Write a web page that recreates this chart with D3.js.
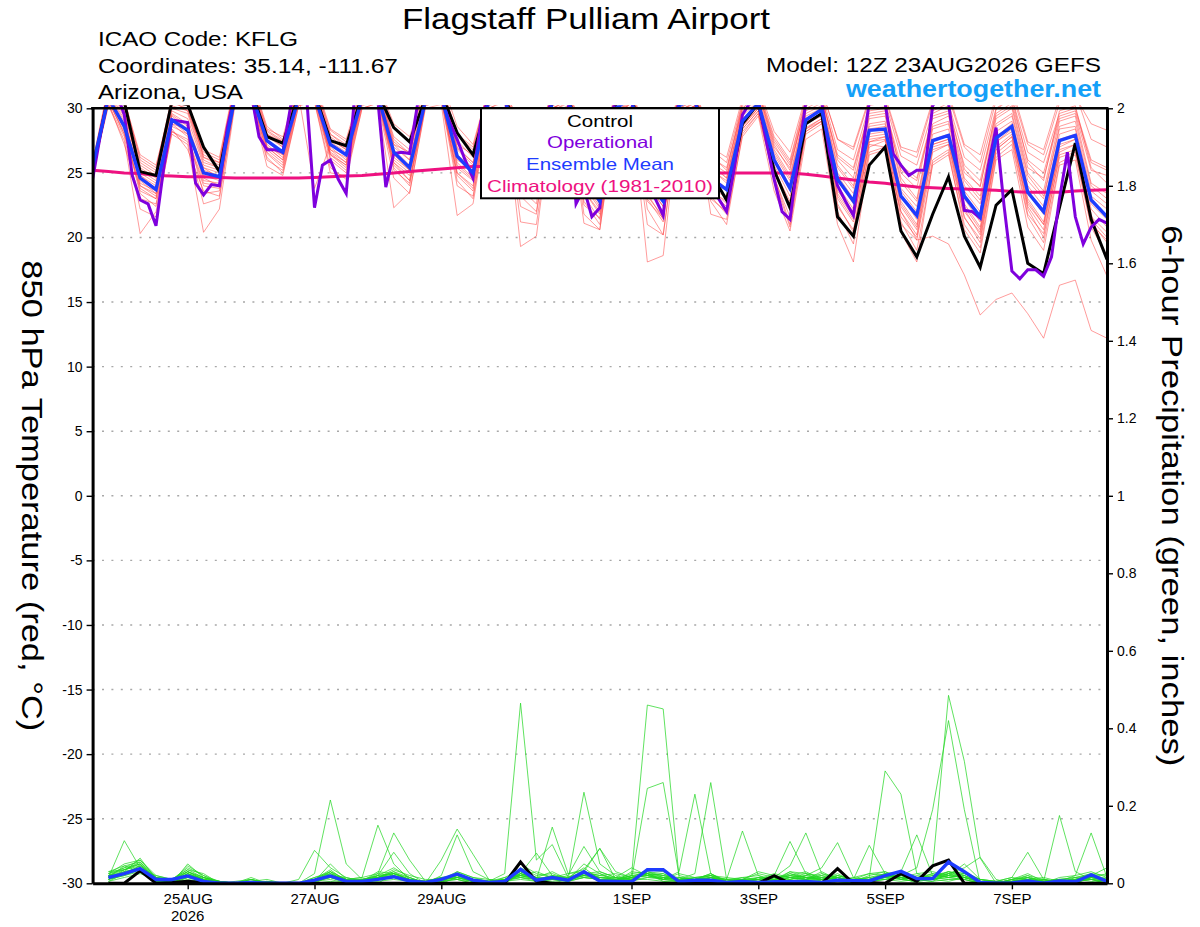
<!DOCTYPE html>
<html>
<head>
<meta charset="utf-8">
<title>Flagstaff Pulliam Airport - GEFS meteogram</title>
<script src="https://cdn.jsdelivr.net/npm/d3@7/dist/d3.min.js"></script>
<style>
  body { margin: 0; background: #fff; }
  svg { display: block; }
  text { font-family: "Liberation Sans", Arial, Helvetica, sans-serif; }
</style>
</head>
<body>
<svg id="chart" width="1200" height="927"></svg>
<script>
// ---------------- data ----------------
const runStart = Date.UTC(2026, 7, 23, 12); // 12Z 23AUG2026, 6-hourly to +384h
const HOUR = 3600e3;

const tempTicks = [-30, -25, -20, -15, -10, -5, 0, 5, 10, 15, 20, 25, 30];
const precipTicks = [0, 0.2, 0.4, 0.6, 0.8, 1, 1.2, 1.4, 1.6, 1.8, 2];
const dateTicks = [Date.UTC(2026,7,25), Date.UTC(2026,7,27), Date.UTC(2026,7,29),
                   Date.UTC(2026,8,1), Date.UTC(2026,8,3), Date.UTC(2026,8,5), Date.UTC(2026,8,7)];
const dateLabels = ['25AUG', '27AUG', '29AUG', '1SEP', '3SEP', '5SEP', '7SEP'];

// 850 hPa temperature, deg C, 6-hourly (65 values)
const controlTemp = [25.2, 31.0,30.5,25.1,24.8, 30.5,30.3,27.0,25.1, 31.2,31.4,27.8,27.3, 31.0,31.2,27.5,27.1,
  31.0,31.2,28.5,27.4, 30.8,31.2,28.1,26.4, 30.8,31.2,26.5,24.5, 30.6,31.1,25.5,23.8, 30.3,31.0,25.2,23.6,
  30.3,30.9,25.0,22.9, 28.8,30.4,25.2,22.3, 28.8,29.6,21.6,20.1, 25.6,27.0,20.5,18.5, 21.8,24.7,20.1,17.7,
  22.5,23.7,18.0,17.2, 22.3,27.3,21.4,18.3];
const meanTemp = [25.5, 30.8,28.6,24.6,23.7, 29.1,28.3,25.0,24.7, 31.0,31.2,27.5,26.6, 30.8,31.0,27.2,26.4,
  30.8,31.0,26.6,25.4, 30.6,31.0,26.3,25.0, 30.6,31.0,25.2,24.0, 30.5,31.0,24.6,22.8, 30.0,30.8,24.4,22.8,
  30.2,30.8,24.6,23.7, 29.0,30.4,26.0,23.8, 29.1,29.9,24.5,22.8, 28.3,28.4,23.2,21.7, 27.5,27.9,23.2,21.6,
  27.7,28.6,23.5,22.0, 27.5,27.9,22.9,21.6];
const climoTemp = [25.2,25.1,25.0,24.95,24.8,24.75,24.7,24.7,24.65,24.6, 24.6,24.6,24.6,24.6,24.65,24.7,24.75,24.8,24.9,25.0,
  25.1,25.2,25.3,25.4,25.5,25.5,25.55,25.5,25.5,25.45, 25.4,25.35,25.3,25.25,25.2,25.15,25.1,25.05,25.0,25.0,
  25.0,25.0,25.0,25.0,25.0,24.9,24.75,24.6,24.45,24.3, 24.2,24.05,23.9,23.85,23.8,23.75,23.7,23.65,23.55,23.5,
  23.5,23.5,23.6,23.65,23.7];
// operational run, 3-hourly (129 values)
const operTemp = [24.5,28.0,31.0,31.2,29.5,24.8,22.9,22.6,20.9,25.5, 29.1,29.0,28.9,24.2,23.3,24.1,24.0,28.5,31.2,31.5,
  31.2,27.8,26.8,26.8,26.6,30.2,31.2,31.0,22.3,25.6, 26.0,24.5,23.4,30.5,31.2,31.3,30.6,23.9,26.5,26.6,
  26.5,30.3,31.2,31.3,30.8,29.0,27.6,26.0,24.6,29.0, 31.0,31.3,31.0,27.0,25.0,24.3,23.5,28.5,31.0,31.2,
  30.5,22.6,23.8,21.6,22.3,28.0,30.8,31.2,30.7,26.5, 24.0,23.0,21.7,27.5,30.6,31.1,30.8,27.0,24.2,23.0,
  22.0,25.5,29.5,30.5,30.6,27.5,24.5,22.0,21.4,26.0, 30.5,31.0,30.5,26.5,24.0,22.8,21.7,26.0,30.5,31.0,
  30.4,26.5,25.6,24.8,25.2,25.2,30.2,31.0,30.4,26.0, 22.1,22.0,21.5,25.5,28.5,22.5,17.4,16.8,17.5,17.5,
  17.0,18.5,23.0,26.6,21.6,19.5,20.8,21.4,21.1];
// ensemble members, 6-hourly
const tempMembers = [
  [25.6, 31.5,30.2,25.8,25.0, 30.8,30.5,26.2,25.6, 32.0,32.2,28.3,27.5, 31.8,32.0,28.0,27.2, 31.6,31.8,27.6,26.5, 31.4,31.9,27.5,26.2, 31.5,32.0,26.5,25.4, 31.4,31.8,25.8,24.2, 31.0,31.6,25.6,24.3, 31.2,31.7,25.8,25.0, 30.2,31.3,27.2,25.2, 30.5,31.0,26.0,24.6, 30.0,30.1,25.0,23.8, 29.6,30.2,25.3,23.9, 29.9,30.8,25.8,24.4, 29.8,30.2,25.4,24.2],
  [25.0, 30.2,27.5,20.3,22.0, 28.0,27.2,20.4,22.2, 30.4,30.6,25.5,24.8, 30.2,30.5,25.4,24.5, 30.0,30.4,22.3,23.5, 30.0,30.3,21.7,22.6, 30.0,30.5,19.3,20.1, 29.8,30.4,22.5,21.5, 29.0,30.0,18.1,18.6, 29.5,30.2,22.8,21.0, 28.0,29.6,24.5,20.8, 28.2,29.0,22.0,19.5, 27.0,27.5,21.0,19.8, 26.0,26.8,21.5,19.9, 26.5,27.5,21.8,20.3, 26.2,26.6,21.0,19.8],
  [25.3, 31.0,29.0,24.0,23.2, 29.5,28.6,24.6,24.0, 31.2,31.4,27.0,26.0, 31.0,31.2,26.8,25.8, 30.8,31.0,26.0,25.0, 30.6,31.0,25.6,24.5, 30.4,30.9,24.8,23.4, 30.2,30.8,24.0,22.2, 29.8,30.4,23.8,22.0, 29.8,30.5,24.0,23.0, 28.6,30.0,25.2,22.8, 28.5,29.2,23.2,21.4, 27.2,27.0,22.0,19.8, 20.1,19.5,17.1,14.0, 15.2,15.7,14.1,12.2, 16.3,16.7,12.8,12.2],
  [25.8, 31.8,30.8,26.0,25.2, 30.6,29.8,26.6,26.0, 32.0,32.4,28.6,27.6, 31.6,31.9,28.3,27.4, 31.7,32.0,28.5,27.3, 31.8,32.2,28.6,27.2, 31.6,32.1,27.8,26.5, 31.5,31.9,27.0,25.8, 31.2,31.8,26.5,25.2, 31.4,31.9,26.8,25.8, 30.5,31.5,27.8,26.0, 30.8,31.4,27.6,26.8, 30.6,30.8,26.8,26.2, 30.4,30.9,27.0,25.8, 30.6,31.2,27.2,26.4, 30.4,30.9,28.8,28.3],
  [25.1, 30.6,28.0,23.8,23.0, 28.8,27.8,24.2,24.0, 30.8,31.0,26.8,25.8, 30.6,30.8,26.5,25.6, 30.5,30.8,25.8,24.4, 30.4,30.8,25.0,23.8, 30.4,30.8,23.8,22.6, 30.0,30.6,23.2,21.4, 29.4,30.4,22.8,21.5, 29.8,30.4,23.5,22.4, 28.4,29.8,25.0,22.6, 28.2,29.0,23.0,21.2, 27.4,27.6,22.0,20.2, 26.8,27.2,22.0,20.4, 27.0,28.0,22.4,20.6, 26.8,27.2,21.4,20.0],
  [25.4, 31.2,29.6,25.2,24.4, 29.8,29.2,25.6,25.2, 31.4,31.6,28.0,27.0, 31.2,31.4,27.6,26.8, 31.0,31.3,27.2,26.0, 31.0,31.4,26.8,25.6, 31.0,31.4,25.8,24.6, 30.8,31.2,25.2,23.6, 30.4,31.0,25.0,23.5, 30.6,31.2,25.2,24.4, 29.6,30.8,26.6,24.6, 29.8,30.4,25.4,23.8, 29.2,29.4,24.3,22.8, 28.6,29.0,24.4,22.9, 28.8,29.6,24.8,23.2, 28.6,29.0,24.0,23.0],
  [25.2, 30.4,27.2,23.0,22.6, 28.4,26.8,23.6,23.2, 30.6,30.8,26.0,25.2, 30.4,30.6,26.0,25.0, 30.2,30.6,25.2,24.2, 30.2,30.6,24.8,23.6, 30.2,30.7,23.2,22.0, 29.8,30.5,22.8,21.0, 29.2,30.2,22.2,20.2, 29.6,30.2,23.0,22.0, 28.2,29.6,24.6,21.6, 28.0,28.8,22.4,20.6, 26.6,27.0,21.2,19.0, 25.6,26.4,21.0,19.2, 26.2,27.2,21.6,19.6, 25.8,26.4,20.8,18.6],
  [25.7, 31.4,30.0,25.4,24.6, 30.0,29.6,25.8,25.4, 31.6,31.8,28.0,27.2, 31.4,31.6,27.8,26.9, 31.2,31.5,27.0,26.0, 31.2,31.6,26.9,25.8, 31.2,31.6,26.2,25.0, 31.0,31.4,25.6,24.0, 30.6,31.2,25.4,24.0, 30.8,31.3,25.6,24.6, 29.8,31.0,26.8,24.8, 30.0,30.6,25.6,24.0, 29.4,29.6,24.6,23.0, 28.8,29.4,24.6,23.2, 29.2,30.0,25.0,23.6, 29.0,29.4,24.2,23.4],
  [24.9, 30.3,27.8,22.2,21.6, 28.2,27.4,22.6,23.0, 30.6,30.8,26.2,25.0, 30.2,30.5,25.0,24.8, 30.0,30.4,24.6,23.4, 30.2,30.6,24.0,23.2, 30.0,30.6,21.2,21.0, 29.6,30.2,21.1,20.6, 29.0,30.0,21.0,20.2, 29.2,30.0,21.8,21.4, 27.8,29.4,23.6,20.5, 27.6,28.4,21.0,18.1, 26.4,26.8,20.4,18.1, 25.8,26.6,20.6,18.8, 26.0,26.8,20.8,19.0, 25.6,26.0,19.8,17.0],
  [25.5, 31.0,29.2,24.8,24.0, 29.6,28.8,25.2,24.8, 31.2,31.4,27.6,26.6, 31.0,23.8,27.2,26.4, 30.8,31.0,26.6,25.4, 30.6,31.0,26.4,25.0, 30.6,31.0,25.4,24.2, 30.4,31.0,24.8,23.0, 30.0,30.8,24.6,23.0, 30.2,30.8,24.8,23.8, 29.2,30.4,26.2,24.0, 29.4,30.0,24.8,23.0, 28.6,28.8,23.6,22.0, 28.0,28.4,23.6,22.0, 28.2,29.0,24.0,22.4, 28.0,28.4,23.2,22.2],
  [25.3, 30.9,28.8,24.4,23.4, 29.2,28.2,24.8,24.4, 31.0,31.2,27.2,26.2, 30.8,31.0,27.0,26.0, 30.6,30.9,26.2,25.2, 30.6,31.0,25.8,24.6, 30.4,30.8,24.6,23.4, 30.4,30.8,24.2,22.4, 29.8,30.6,24.0,22.4, 30.0,30.6,24.2,23.2, 28.8,30.2,25.6,23.2, 29.0,29.6,24.0,22.2, 28.0,28.2,22.8,21.0, 27.2,27.6,22.6,20.8, 27.4,28.4,23.0,21.2, 27.2,27.6,22.2,20.8],
  [25.6, 31.3,29.8,25.0,24.2, 30.2,29.8,26.0,25.4, 31.8,32.0,27.8,27.0, 31.4,31.6,27.6,26.8, 31.4,31.7,27.8,26.8, 31.4,31.8,27.0,25.8, 31.3,31.8,26.6,25.2, 31.2,31.6,26.0,24.6, 30.8,31.4,25.8,24.6, 31.0,31.5,26.2,25.4, 30.0,31.2,27.4,25.6, 30.2,30.8,26.4,25.4, 29.8,30.0,25.6,24.6, 29.4,29.8,25.6,24.4, 29.6,30.4,26.0,25.0, 29.4,29.8,25.8,25.2],
  [25.0, 30.5,28.2,23.4,22.4, 28.6,28.0,23.4,23.6, 30.8,31.0,26.5,25.4, 30.6,30.8,26.2,25.2, 30.4,30.7,25.4,24.0, 30.4,30.8,25.0,24.0, 30.3,30.8,22.4,21.8, 30.0,30.6,23.6,21.8, 29.6,30.4,23.4,21.4, 29.8,30.4,23.8,22.6, 28.6,30.0,25.2,22.2, 28.4,29.2,23.6,22.0, 27.6,27.8,22.4,20.6, 27.0,27.4,22.2,20.2, 26.8,27.8,22.6,21.0, 26.6,27.2,21.6,20.4],
  [25.4, 31.1,29.4,24.2,23.6, 29.4,28.4,25.4,25.0, 31.4,31.6,27.4,26.4, 31.2,31.4,26.8,26.2, 31.0,31.2,26.8,25.6, 30.8,31.2,26.0,25.2, 30.8,31.2,25.6,24.4, 30.6,31.0,25.0,23.2, 30.2,30.9,25.2,23.8, 30.4,31.0,25.4,24.2, 29.4,30.6,26.4,24.4, 29.6,30.2,25.0,23.4, 28.8,29.0,23.8,22.4, 28.4,28.8,24.0,22.6, 28.6,29.4,24.4,23.0, 28.4,28.6,23.6,22.6],
  [25.5, 31.2,29.8,25.6,24.8, 30.4,30.0,26.4,25.8, 31.8,32.0,28.2,27.4, 31.6,31.8,28.0,27.0, 31.4,31.6,27.4,26.4, 31.5,31.8,28.0,27.0, 31.4,31.8,27.0,26.0, 31.3,31.7,26.6,25.4, 31.0,31.6,26.2,25.0, 31.2,31.6,26.4,25.2, 30.4,31.4,27.6,25.8, 30.6,31.2,26.8,26.0, 30.2,30.5,26.3,25.6, 29.8,30.4,26.2,25.2, 30.0,30.8,26.6,25.8, 29.6,30.0,26.0,25.4],
  [25.2, 30.7,28.4,23.6,23.0, 28.2,27.6,24.0,23.8, 30.8,31.0,26.6,25.6, 30.6,30.8,26.4,25.4, 30.4,30.8,25.6,24.4, 30.4,30.8,24.4,23.0, 30.3,30.8,24.4,23.0, 30.0,30.6,21.8,20.6, 29.6,30.4,23.2,21.6, 29.6,30.2,23.2,21.8, 28.4,29.8,24.8,21.0, 28.4,29.0,22.6,20.4, 27.4,27.8,21.6,20.0, 26.6,27.2,21.6,19.6, 26.8,27.8,22.2,20.0, 26.4,26.8,21.2,19.6],
  [25.6, 31.4,30.4,26.2,25.4, 30.8,30.6,26.8,26.2, 32.2,32.4,28.4,27.8, 32.0,32.2,28.4,27.6, 31.8,32.0,28.8,27.8, 31.6,32.0,28.0,26.8, 31.8,32.2,27.6,26.8, 31.6,32.0,27.2,26.2, 31.4,31.9,27.0,26.0, 31.5,32.0,27.0,26.2, 30.8,31.7,28.2,26.6, 31.0,31.5,27.6,27.0, 30.8,31.0,27.0,26.6, 30.6,31.2,27.2,26.4, 31.0,31.6,27.4,26.8, 30.8,31.2,27.6,27.0],
  [25.3, 30.8,28.6,24.8,23.8, 29.0,28.0,25.4,24.6, 31.2,31.4,27.0,26.4, 31.0,31.2,26.4,25.6, 30.8,31.0,26.4,25.2, 30.8,31.2,26.4,25.4, 30.7,31.2,25.0,23.6, 30.6,31.0,24.4,22.6, 30.0,30.8,24.2,22.4, 30.2,30.8,24.6,23.6, 29.0,30.4,26.0,23.6, 29.2,29.8,24.4,22.6, 28.4,28.6,23.2,21.4, 27.6,28.0,23.0,21.2, 27.8,28.8,23.4,21.8, 27.6,28.0,22.6,21.4],
  [25.1, 30.6,28.0,24.0,23.4, 28.8,28.4,24.4,24.2, 30.9,31.1,27.0,26.0, 30.7,31.0,26.6,25.8, 30.6,30.8,25.8,24.8, 30.5,30.9,25.4,24.4, 30.5,30.9,24.2,23.0, 30.2,30.7,23.6,22.0, 29.8,30.5,23.0,21.2, 30.0,30.6,23.6,22.8, 28.8,30.0,25.4,22.4, 28.8,29.4,23.4,21.6, 27.8,28.0,22.6,20.8, 27.2,27.6,22.4,20.6, 27.4,28.2,22.8,21.0, 27.0,27.6,21.8,18.2],
  [25.8, 31.6,30.6,26.4,25.6, 30.4,30.2,26.2,25.8, 31.8,32.0,28.0,27.4, 31.6,31.8,27.4,26.6, 31.6,31.8,27.2,26.6, 31.4,31.8,27.2,26.4, 31.4,31.9,26.6,25.6, 31.2,31.6,25.8,24.8, 30.8,31.4,25.4,24.4, 31.0,31.4,25.8,24.6, 30.0,31.2,27.0,25.4, 30.2,30.8,26.2,25.2, 29.6,29.8,25.2,24.4, 29.2,29.6,25.0,24.0, 29.4,30.2,25.4,24.6, 29.2,29.6,25.2,24.8]
];

// 6-hour precipitation, inches, valid 18Z 23AUG onward (64 values)
const controlPrecip = [0,0,.032,0,.002,.005,.002,0, 0,0,0,0,0,0,0,0, 0,0,0,0,0,0,0,0, 0,0,.055,.005,0,0,0,0,
  0,0,0,0,0,0,0,0, 0,0,.02,0,0,0,.038,0, .002,0,.025,.005,.045,.06,0,0, 0,0,0,0,0,0,0,0];
const meanPrecip = [.015,.025,.038,.01,.01,.019,.005,0, 0,.002,0,0,0,.008,.019,.005, .005,.01,.017,.006,.002,.01,.024,.008,
  .002,.005,.036,.008,.015,.008,.03,.006, .005,.004,.035,.035,.004,.008,.008,.002, .005,.002,.004,.004,.005,.002,.008,.007,
  .006,.02,.031,.012,.012,.055,.03,.002, 0,.001,.006,0,.006,.004,.022,.005];
const precipMembers = [
  [.015,.11,.04,.01,.005,.025,.01,0, 0,0,0,0,0,0,.005,0, 0,.01,.015,.005,0,.01,.025,.01, .005,.025,.465,.06,.1,.015,.04,.01, 0,.005,.03,.025,.005,0,.015,0, .01,0,.005,.015,.025,.005,.015,0, .005,.015,.025,.01,.04,.485,.315,.065, 0,0,.005,0,.01,0,.02,.005],
  [.025,.05,.06,.015,.01,.04,.02,0, 0,.01,0,0,0,.025,.215,.05, .01,0,.025,.01,.005,0,.015,.005, 0,.01,.025,.015,0,.01,.05,.025, .01,.02,.46,.45,.015,.005,0,0, 0,.005,0,.01,.02,.01,0,.005, .01,.025,.015,0,.005,.025,.01,0, 0,0,0,.01,0,.005,.01,0],
  [.01,.03,.065,.01,0,.05,.015,.005, 0,0,0,0,0,.005,.03,.01, .015,.15,.05,.01,0,.005,.01,0, 0,.005,.04,.02,.025,.01,.235,.05, .02,.01,.025,.005,0,.01,.025,.005, 0,.015,.01,.025,.01,0,.02,.01, .015,.29,.23,.025,.01,.005,.015,0, 0,.005,.01,0,0,.01,.005,0],
  [.02,.04,.05,.005,.01,.035,.025,0, 0,.005,.01,0,0,0,.02,.015, .005,.025,.13,.06,.005,0,.03,.015, .005,0,.05,.025,.015,.005,.025,.01, .005,.015,.02,.01,.03,.23,.025,0, .005,0,.01,.015,.01,.02,.005,0, .005,.01,.02,.04,.19,.42,.19,0, 0,0,.005,.01,0,.005,0,.01],
  [.005,.025,.045,.01,0,.02,.01,0, 0,.015,0,0,0,.01,.03,0, .01,.02,.08,.025,0,.06,.14,.075, .01,.005,.03,.01,.02,.015,.03,.09, .01,.025,.03,.015,.01,.025,.26,.01, .015,.01,.005,.03,.015,.01,.025,.005, .01,.02,.015,.025,.03,.02,.05,.01, .005,0,.015,.005,.01,0,.015,.005],
  [.03,.035,.055,.015,.005,.045,.02,.005, 0,0,.005,0,0,.005,.05,.01, .005,.015,.025,.01,.005,.015,.02,.01, 0,.015,.035,.01,.145,.025,.03,.02, .015,.01,.245,.26,.02,.01,.005,0, .01,0,.015,.005,.01,.03,.01,.005, .01,.015,.02,.01,.015,.025,.03,.01, 0,.01,0,.005,.175,.03,.01,0],
  [.01,.02,.035,.02,.01,.03,.015,0, .005,.01,0,0,0,.015,.025,.005, 0,.02,.04,.015,0,.02,.125,.03, .01,0,.025,.015,.03,.01,.02,.025, .005,.03,.025,.02,.01,0,.015,.01, .135,.02,.005,.025,.015,.01,.02,.01, .025,.03,.01,.015,.02,.03,.015,.005, 0,.005,.02,0,.015,.02,.13,.015],
  [.015,.045,.03,.01,.005,.025,.005,0, 0,0,0,0,.01,.085,.04,.015, .005,.03,.025,.015,0,.01,.015,.005, 0,.01,.02,.03,.015,.005,.025,.03, .015,.04,.02,.01,.025,.015,.01,.005, .01,.025,.015,.045,.13,.025,.01,.015, .01,.02,.03,.015,.01,.025,.04,.067, .01,0,.005,.01,0,.015,.025,.01],
  [.02,.03,.04,.005,0,.015,.01,0, 0,.01,0,0,0,.01,.02,.01, .015,.025,.02,.01,.005,.015,.01,.005, .005,.01,.025,.078,.02,.01,.015,.01, .005,.02,.025,.015,.005,.01,.02,.015, .01,.03,.02,.108,.025,.015,.02,.01, .015,.025,.01,.02,.015,.03,.025,.01, .005,.015,.08,.01,.005,.02,.03,.015],
  [.025,.035,.05,.01,.005,.02,.015,.005, 0,0,.005,0,0,.005,.015,0, .01,.015,.03,.005,0,.005,.02,.01, .005,.015,.02,.01,.015,.025,.035,.09, .03,.015,.02,.025,.01,.005,.015,.01, .005,.01,.025,.015,.02,.04,.105,.015, .025,.02,.015,.01,.025,.015,.02,.005, 0,.01,.025,.005,.01,.015,.02,.04],
  [.015,.025,.045,.015,.005,.03,.01,0, 0,.005,0,0,0,.01,.02,.005, .01,.015,.035,.02,.01,.01,.03,.015, .01,.005,.03,.015,.01,.02,.095,.03, .015,.01,.03,.02,.015,.01,.025,.005, .015,.02,.01,.03,.025,.02,.015,.01, .098,.025,.03,.125,.02,.015,.025,.005, .005,0,.01,.015,.005,.01,.025,.02],
  [.01,.02,.03,.005,0,.015,.005,0, 0,.005,0,0,0,.005,.015,.005, .005,.01,.015,.005,0,.01,.015,.005, 0,.005,.015,.01,.005,.01,.02,.015, .01,.005,.015,.01,.005,.01,.015,.005, .005,.01,.005,.015,.01,.005,.01,.005, .01,.015,.01,.005,.01,.02,.015,.005, 0,.005,.01,.005,0,.005,.01,.005],
  [.025,.04,.06,.02,.01,.035,.015,.005, 0,0,0,0,0,.01,.035,.005, 0,.015,.02,.01,0,.005,.025,.01, .005,0,.025,.01,.015,.005,.025,.02, .025,.015,.035,.03,.01,.015,.02,0, .005,.015,.01,.02,.03,.01,.015,.005, .02,.03,.015,.01,.015,.03,.02,0, 0,.01,.015,0,.005,.01,.015,.025],
  [.005,.015,.025,.01,0,.01,.005,0, 0,.01,0,0,0,.005,.01,0, .005,.005,.01,.005,0,.005,.01,0, 0,.005,.01,.005,.01,.005,.015,.01, .005,.01,.01,.005,.005,.005,.01,.005, 0,.005,.01,.005,.015,.005,.005,0, .005,.01,.005,.01,.005,.01,.01,0, 0,0,.005,0,.005,.005,.01,.005],
  [.02,.025,.035,.01,.005,.025,.01,0, 0,0,0,0,0,.005,.025,.01, .01,.02,.025,.01,.005,.01,.02,.01, .005,.01,.02,.015,.01,.015,.025,.01, .01,.015,.02,.015,.01,.015,.02,.01, .01,.015,.01,.02,.015,.015,.01,.005, .015,.02,.015,.01,.02,.025,.015,.005, 0,.005,.01,.005,.01,.005,.015,.01],
  [.01,.035,.045,.015,.01,.02,.01,.005, 0,.005,0,0,0,.015,.03,.01, .005,.01,.015,.01,.005,.015,.02,.005, 0,.01,.015,.01,.02,.01,.03,.015, .015,.01,.025,.01,.015,.01,.015,.005, .01,.005,.015,.01,.02,.015,.01,.01, .01,.015,.02,.015,.01,.02,.025,.01, .005,.015,.01,.005,.01,.015,.01,.015],
  [.03,.045,.055,.01,.005,.03,.015,0, 0,.005,0,0,0,.01,.02,.005, .005,.015,.03,.015,0,.01,.025,.01, .005,.005,.02,.015,.01,.01,.02,.015, .01,.02,.025,.02,.01,.005,.015,.01, .005,.01,.02,.015,.01,.025,.015,.005, .01,.025,.01,.015,.025,.015,.02,.005, 0,.01,.02,.01,.005,.01,.02,.01],
  [.015,.03,.04,.01,.005,.015,.01,0, 0,0,.005,0,0,.005,.015,.005, .01,.01,.02,.005,0,.005,.015,.005, 0,.01,.015,.005,.01,.005,.015,.01, .005,.015,.02,.01,.005,.01,.01,.005, .01,.005,.01,.015,.01,.01,.015,.005, .005,.01,.015,.01,.015,.01,.015,.005, 0,.005,.015,.005,0,.01,.015,.005],
  [.01,.025,.035,.005,0,.025,.01,0, 0,0,0,0,0,.01,.02,.01, .005,.02,.015,.01,0,.01,.015,.01, .005,.005,.025,.01,.015,.01,.02,.01, .01,.01,.015,.015,.01,.01,.015,0, .005,.01,.005,.01,.015,.01,.005,.005, .01,.015,.01,.005,.01,.015,.01,0, 0,.005,.01,0,.005,.01,.01,.005],
  [.02,.035,.05,.015,.01,.03,.01,.005, 0,.005,0,0,0,.01,.025,.005, .01,.015,.025,.01,.005,.01,.02,.005, .005,.01,.02,.01,.01,.015,.025,.015, .01,.015,.025,.01,.01,.01,.02,.005, .01,.01,.015,.02,.015,.01,.015,.005, .01,.02,.015,.01,.015,.02,.015,.005, 0,.01,.015,.005,.01,.01,.015,.01]
];

// ---------------- layout ----------------
const svg = d3.select('#chart');
const plot = { left: 92.6, right: 1107, top: 108.3, bottom: 883.3 };
const FONT = '"Liberation Sans", Arial, Helvetica, sans-serif';

const times6 = controlTemp.map((d, i) => new Date(runStart + i * 6 * HOUR));
const times3 = operTemp.map((d, i) => new Date(runStart + i * 3 * HOUR));
const timesP = controlPrecip.map((d, i) => new Date(runStart + (i + 1) * 6 * HOUR));

const x = d3.scaleUtc().domain([times6[0], times6[times6.length - 1]]).range([plot.left, plot.right]);
const yT = d3.scaleLinear().domain([-30, 30]).range([plot.bottom, plot.top]);
const yP = d3.scaleLinear().domain([0, 2]).range([plot.bottom, plot.top]);

svg.append('rect').attr('width', 1200).attr('height', 927).attr('fill', '#fff');

svg.append('clipPath').attr('id', 'plotClip')
  .append('rect')
  .attr('x', plot.left).attr('y', plot.top - 3)
  .attr('width', plot.right - plot.left).attr('height', plot.bottom - plot.top + 4);

// dotted grid from the temperature axis
svg.append('g').selectAll('line')
  .data(tempTicks.filter(t => Math.abs(t) < 30))
  .join('line')
  .attr('x1', plot.left).attr('x2', plot.right)
  .attr('y1', d => yT(d)).attr('y2', d => yT(d))
  .attr('stroke', '#a8a8a8').attr('stroke-width', 1.4)
  .attr('stroke-dasharray', '2,7.4');

const lineOn = (times, yScale) => d3.line().x((d, i) => x(times[i])).y(d => yScale(d));

const marks = svg.append('g').attr('clip-path', 'url(#plotClip)');

marks.append('g').selectAll('path')
  .data(tempMembers).join('path')
  .attr('d', lineOn(times6, yT))
  .attr('fill', 'none').attr('stroke', '#ff4040').attr('stroke-opacity', 0.65).attr('stroke-width', 0.8);

marks.append('g').selectAll('path')
  .data(precipMembers).join('path')
  .attr('d', lineOn(timesP, yP))
  .attr('fill', 'none').attr('stroke', '#22d622').attr('stroke-opacity', 0.9).attr('stroke-width', 0.8);

marks.append('path').datum(climoTemp)
  .attr('d', lineOn(times6, yT))
  .attr('fill', 'none').attr('stroke', '#ee1180').attr('stroke-width', 3);

marks.append('path').datum(controlTemp)
  .attr('d', lineOn(times6, yT))
  .attr('fill', 'none').attr('stroke', '#000').attr('stroke-width', 3);

marks.append('path').datum(operTemp)
  .attr('d', lineOn(times3, yT))
  .attr('fill', 'none').attr('stroke', '#7f00dd').attr('stroke-width', 3);

marks.append('path').datum(meanTemp)
  .attr('d', lineOn(times6, yT))
  .attr('fill', 'none').attr('stroke', '#1e3cff').attr('stroke-width', 3.4);

marks.append('path').datum(controlPrecip)
  .attr('d', lineOn(timesP, yP))
  .attr('fill', 'none').attr('stroke', '#000').attr('stroke-width', 3);

marks.append('path').datum(meanPrecip)
  .attr('d', lineOn(timesP, yP))
  .attr('fill', 'none').attr('stroke', '#1e3cff').attr('stroke-width', 3.4);

// ---------------- axes ----------------
function styleAxis(g, size) {
  g.attr('font-family', FONT).attr('font-size', size);
  g.select('.domain').attr('stroke-width', 3);
  g.selectAll('.tick line').attr('stroke-width', 1.4);
  g.selectAll('.tick text').attr('fill', '#000');
}

svg.append('g')
  .attr('transform', `translate(${plot.left},0)`)
  .call(d3.axisLeft(yT).tickValues(tempTicks).tickSize(6).tickSizeOuter(0).tickPadding(4)
    .tickFormat(d => String(d)))
  .call(g => styleAxis(g, 14));

svg.append('g')
  .attr('transform', `translate(${plot.right},0)`)
  .call(d3.axisRight(yP).tickValues(precipTicks).tickSize(6).tickSizeOuter(0).tickPadding(4)
    .tickFormat(d => String(+d.toFixed(1))))
  .call(g => styleAxis(g, 14));

svg.append('g')
  .attr('transform', `translate(0,${plot.bottom})`)
  .call(d3.axisBottom(x).tickValues(dateTicks.map(d => new Date(d))).tickSize(6).tickSizeOuter(0).tickPadding(4)
    .tickFormat((d, i) => dateLabels[i]))
  .call(g => styleAxis(g, 15));

svg.append('text')
  .attr('x', x(new Date(dateTicks[0]))).attr('y', 921)
  .attr('text-anchor', 'middle').attr('font-size', 15)
  .text('2026');

svg.append('line')
  .attr('x1', plot.left - 1.5).attr('x2', plot.right + 1.5)
  .attr('y1', plot.top).attr('y2', plot.top)
  .attr('stroke', '#000').attr('stroke-width', 2.4);

// ---------------- texts ----------------
function label(txt, px, py, size, len, opts = {}) {
  const t = svg.append('text')
    .attr('x', px).attr('y', py)
    .attr('font-size', size)
    .attr('text-anchor', opts.anchor || 'start')
    .attr('fill', opts.fill || '#000')
    .attr('font-weight', opts.weight || 'normal')
    .attr('textLength', len).attr('lengthAdjust', 'spacingAndGlyphs')
    .text(txt);
  if (opts.transform) t.attr('transform', opts.transform);
  return t;
}

label('Flagstaff Pulliam Airport', 586, 29, 30, 368, { anchor: 'middle' });
label('ICAO Code: KFLG', 98, 46, 20, 200);
label('Coordinates: 35.14, -111.67', 98, 72.5, 20, 300);
label('Arizona, USA', 98, 99, 20, 145);
label('Model: 12Z 23AUG2026 GEFS', 1101, 72, 20, 335, { anchor: 'end' });
label('weathertogether.net', 1101, 97, 24, 255, { anchor: 'end', fill: '#14a0f8', weight: 'bold' });

label('850 hPa Temperature (red, °C)', 0, 0, 30, 471,
  { anchor: 'middle', transform: `translate(22,${(plot.top + plot.bottom) / 2}) rotate(90)` });
label('6-hour Precipitation (green, inches)', 0, 0, 30, 541,
  { anchor: 'middle', transform: `translate(1162,${(plot.top + plot.bottom) / 2}) rotate(90)` });

// legend
svg.append('rect')
  .attr('x', 481).attr('y', plot.top).attr('width', 238).attr('height', 90)
  .attr('fill', '#fff').attr('stroke', '#000').attr('stroke-width', 2);
label('Control', 600, 126.7, 16.5, 66, { anchor: 'middle' });
label('Operational', 600, 148.3, 16.5, 106, { anchor: 'middle', fill: '#7f00dd' });
label('Ensemble Mean', 600, 170, 16.5, 148, { anchor: 'middle', fill: '#1e3cff' });
label('Climatology (1981-2010)', 600, 191.7, 16.5, 226, { anchor: 'middle', fill: '#ee1180' });
</script>
</body>
</html>
